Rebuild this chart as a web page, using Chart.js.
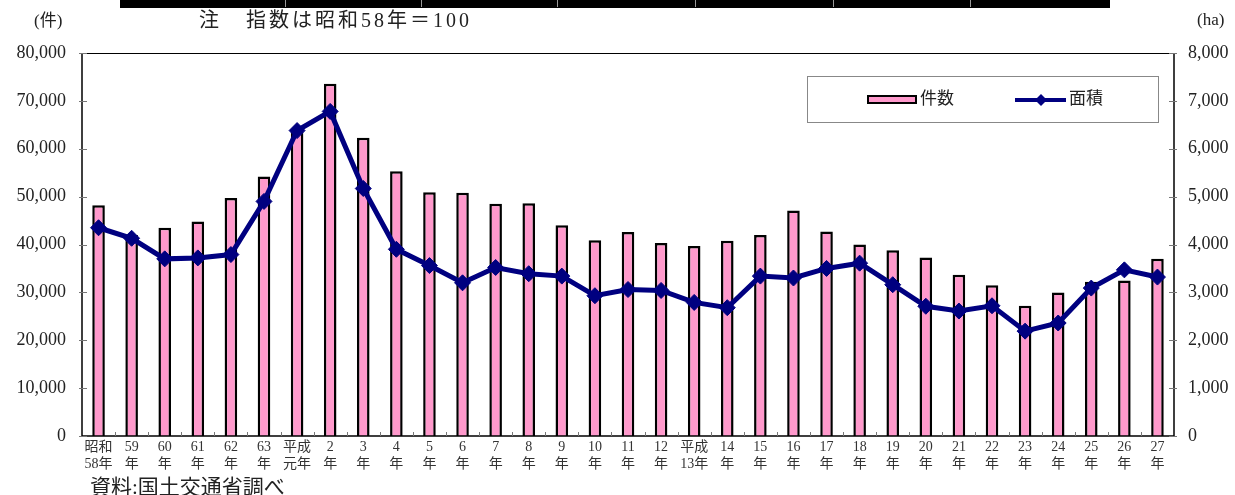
<!DOCTYPE html>
<html>
<head>
<meta charset="utf-8">
<script src="https://cdn.jsdelivr.net/npm/chart.js@4"></script>
<style>
  html, body { margin: 0; padding: 0; background: #fff; }
  #wrap { width: 1235px; height: 495px; position: relative; }
</style>
</head>
<body>
<div id="wrap"><canvas id="myChart" width="1235" height="495"></canvas></div>
<script>
// categories (two-line tick labels)
const years = [
  ['昭和', '58年'], ['59', '年'], ['60', '年'], ['61', '年'], ['62', '年'], ['63', '年'],
  ['平成', '元年'], ['2', '年'], ['3', '年'], ['4', '年'], ['5', '年'], ['6', '年'],
  ['7', '年'], ['8', '年'], ['9', '年'], ['10', '年'], ['11', '年'], ['12', '年'],
  ['平成', '13年'], ['14', '年'], ['15', '年'], ['16', '年'], ['17', '年'], ['18', '年'],
  ['19', '年'], ['20', '年'], ['21', '年'], ['22', '年'], ['23', '年'], ['24', '年'],
  ['25', '年'], ['26', '年'], ['27', '年'],
];
// 件数 (left axis)
const counts = [
  48200, 42000, 43500, 44800, 49700, 54200, 63800, 73600, 62300, 55300, 50900, 50800,
  48500, 48600, 44000, 40900, 42600, 40300, 39700, 40800, 42000, 47100, 42700, 40000,
  38800, 37300, 33700, 31500, 27200, 30000, 32200, 32500, 37000,
];
// 面積 (right axis, ha)
const areas = [
  4350, 4130, 3700, 3720, 3790, 4900, 6380, 6780, 5170, 3900, 3560, 3200,
  3520, 3390, 3340, 2930, 3060, 3040, 2790, 2680, 3340, 3300, 3500, 3610,
  3160, 2710, 2610, 2720, 2190, 2360, 3090, 3470, 3320,
];
const leftTicks = [0, 10000, 20000, 30000, 40000, 50000, 60000, 70000, 80000];
const rightTicks = [0, 1000, 2000, 3000, 4000, 5000, 6000, 7000, 8000];

const serif = "'Liberation Serif', 'Noto Sans CJK JP', serif";
const pink = '#ff99cc';
const navy = '#000080';

// extra drawing: top strip, notes, legend box, axis frame and inward ticks
const decor = {
  id: 'decor',
  afterDraw(chart) {
    const ctx = chart.ctx;
    const a = chart.chartArea;
    const y = chart.scales.y, y2 = chart.scales.y2;
    ctx.save();

    // cut-off table edge at the very top
    ctx.fillStyle = '#000';
    ctx.fillRect(120, 0, 990, 8);
    ctx.strokeStyle = '#999';
    ctx.lineWidth = 1;
    [285, 421, 557, 695, 833, 970].forEach(px => {
      ctx.beginPath(); ctx.moveTo(px + 0.5, 0); ctx.lineTo(px + 0.5, 7); ctx.stroke();
    });

    ctx.fillStyle = '#222';
    ctx.textBaseline = 'middle';
    ctx.font = '17px ' + serif;
    ctx.textAlign = 'left';
    ctx.fillText('(件)', 34, 22);
    ctx.fillText('(ha)', 1197, 21);
    ctx.font = '20px ' + serif;
    ctx.fillText('注', 199, 22);
    ctx.letterSpacing = '3px';
    ctx.fillText('指数は昭和58年＝100', 246, 22);
    ctx.letterSpacing = '0px';
    ctx.font = '21px ' + serif;
    ctx.fillText('資料:国土交通省調べ', 90, 488);

    // frame
    ctx.strokeStyle = '#000';
    ctx.lineWidth = 1;
    ctx.beginPath(); ctx.moveTo(a.left, a.top + 0.5); ctx.lineTo(a.right, a.top + 0.5); ctx.stroke();
    ctx.lineWidth = 1.5;
    ctx.beginPath();
    ctx.moveTo(a.left, a.top); ctx.lineTo(a.left, a.bottom); ctx.lineTo(a.right, a.bottom); ctx.lineTo(a.right, a.top);
    ctx.stroke();

    // inward tick marks
    ctx.strokeStyle = '#777';
    ctx.lineWidth = 1;
    leftTicks.forEach(v => {
      const py = Math.round(y.getPixelForValue(v)) + 0.5;
      ctx.beginPath(); ctx.moveTo(a.left - 3, py); ctx.lineTo(a.left + 5, py); ctx.stroke();
    });
    rightTicks.forEach(v => {
      const py = Math.round(y2.getPixelForValue(v)) + 0.5;
      ctx.beginPath(); ctx.moveTo(a.right - 5, py); ctx.lineTo(a.right + 3, py); ctx.stroke();
    });
    const w = (a.right - a.left) / years.length;
    for (let i = 1; i < years.length; i++) {
      const px = Math.round(a.left + i * w) + 0.5;
      ctx.beginPath(); ctx.moveTo(px, a.bottom - 4); ctx.lineTo(px, a.bottom); ctx.stroke();
    }

    // legend box
    ctx.strokeStyle = '#888';
    ctx.strokeRect(807.5, 76.5, 351, 46);
    ctx.fillStyle = pink;
    ctx.fillRect(868, 96, 48, 7);
    ctx.strokeStyle = '#000';
    ctx.lineWidth = 2;
    ctx.strokeRect(868, 96, 48, 7);
    ctx.strokeStyle = navy;
    ctx.lineWidth = 4;
    ctx.beginPath(); ctx.moveTo(1015, 100); ctx.lineTo(1066, 100); ctx.stroke();
    ctx.fillStyle = navy;
    ctx.beginPath();
    ctx.moveTo(1041, 94); ctx.lineTo(1047, 100); ctx.lineTo(1041, 106); ctx.lineTo(1035, 100);
    ctx.closePath(); ctx.fill();
    ctx.fillStyle = '#222';
    ctx.font = '17px ' + serif;
    ctx.fillText('件数', 920, 100);
    ctx.fillText('面積', 1069, 100);
    ctx.restore();
  },
};

const ctx = document.getElementById('myChart').getContext('2d');
new Chart(ctx, {
  type: 'bar',
  data: {
    labels: years,
    datasets: [
      {
        type: 'line',
        label: '面積',
        data: areas,
        yAxisID: 'y2',
        borderColor: navy,
        backgroundColor: navy,
        borderWidth: 5,
        pointStyle: 'rectRot',
        pointRadius: 8,
        pointBackgroundColor: navy,
        pointBorderColor: navy,
        pointBorderWidth: 1,
        tension: 0,
        order: 0,
      },
      {
        label: '件数',
        data: counts,
        yAxisID: 'y',
        backgroundColor: pink,
        borderColor: '#000',
        borderWidth: 2.5,
        barPercentage: 0.38,
        categoryPercentage: 1,
        order: 1,
      },
    ],
  },
  options: {
    responsive: false,
    animation: false,
    devicePixelRatio: 1,
    layout: { padding: { top: 53, left: 0, right: 0, bottom: 0 } },
    plugins: {
      legend: { display: false },
      tooltip: { enabled: false },
    },
    scales: {
      x: {
        grid: { display: false, drawTicks: false },
        border: { display: false },
        ticks: {
          color: '#333',
          font: { family: serif, size: 14, lineHeight: 1.2 },
          padding: 3,
          maxRotation: 0,
          autoSkip: false,
        },
        afterFit: (s) => { s.height = 59; },
      },
      y: {
        position: 'left',
        min: 0,
        max: 80000,
        grid: { display: false, drawTicks: false },
        border: { display: false },
        ticks: {
          stepSize: 10000,
          color: '#222',
          padding: 16,
          font: { family: serif, size: 18 },
          callback: (v) => v.toLocaleString('en-US'),
        },
        afterFit: (s) => { s.width = 82; },
      },
      y2: {
        position: 'right',
        min: 0,
        max: 8000,
        grid: { display: false, drawTicks: false },
        border: { display: false },
        ticks: {
          stepSize: 1000,
          color: '#222',
          padding: 14,
          font: { family: serif, size: 18 },
          callback: (v) => v.toLocaleString('en-US'),
        },
        afterFit: (s) => { s.width = 61; },
      },
    },
  },
  plugins: [decor],
});
</script>
</body>
</html>
